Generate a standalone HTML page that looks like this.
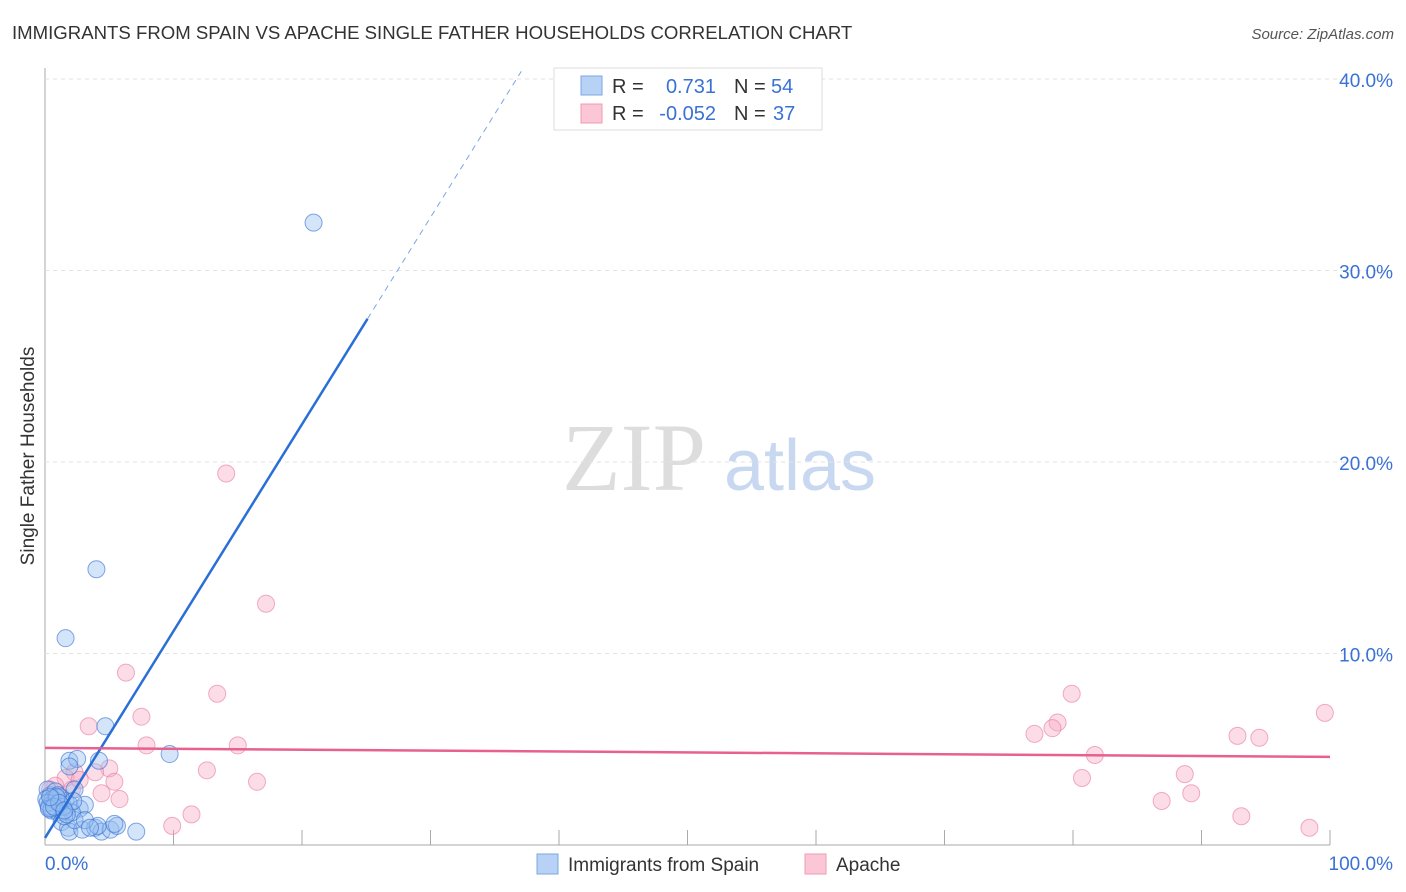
<!DOCTYPE html>
<html><head><meta charset="utf-8"><style>
body{margin:0;background:#fff;font-family:"Liberation Sans",sans-serif;}
svg{display:block}
</style></head><body>
<svg id="c" width="1406" height="892">
<text x="12" y="39" font-size="18.6" fill="#333">IMMIGRANTS FROM SPAIN VS APACHE SINGLE FATHER HOUSEHOLDS CORRELATION CHART</text>
<text x="1394" y="39" font-size="15" fill="#555" font-style="italic" text-anchor="end">Source: ZipAtlas.com</text>
<text x="634" y="490" font-size="96" fill="#ddd" font-family="Liberation Serif" text-anchor="middle">ZIP</text>
<text x="800" y="490" font-size="72" fill="#c8d8f0" text-anchor="middle">atlas</text>
<text transform="translate(34,456) rotate(-90)" font-size="19" fill="#333" text-anchor="middle">Single Father Households</text>
<g id="grid"></g><g id="pts"></g><g id="lines"></g>
<g>
<rect x="554" y="68" width="268" height="62" fill="#fff" stroke="#ddd"/>
<rect x="581" y="76" width="21" height="19" fill="#b8d2f5" stroke="#7aa7e3"/>
<rect x="581" y="104" width="21" height="19" fill="#fbc6d6" stroke="#f19ab5"/>
<text x="612" y="93" font-size="20" fill="#333">R =</text>
<text x="716" y="93" font-size="20" fill="#3a72d4" text-anchor="end">0.731</text>
<text x="734" y="93" font-size="20" fill="#333">N =</text>
<text x="771" y="93" font-size="20" fill="#3a72d4">54</text>
<text x="612" y="120" font-size="20" fill="#333">R =</text>
<text x="716" y="120" font-size="20" fill="#3a72d4" text-anchor="end">-0.052</text>
<text x="734" y="120" font-size="20" fill="#333">N =</text>
<text x="773" y="120" font-size="20" fill="#3a72d4">37</text>
</g>
<g>
<rect x="537" y="854" width="21" height="20" fill="#b8d2f5" stroke="#7aa7e3"/>
<text x="568" y="871" font-size="19" fill="#333">Immigrants from Spain</text>
<rect x="805" y="854" width="21" height="20" fill="#fbc6d6" stroke="#f19ab5"/>
<text x="836" y="871" font-size="19" fill="#333">Apache</text>
</g>
</svg>
<script>
const yTicks=[10,20,30,40];
const xTickLabels=["0.0%","100.0%"];
const blueX=[20.9,4.0,1.6,4.7,9.7,1.9,2.5,4.2,1.9,2.3,0.4,0.8,1.2,0.5,1.6,0.2,1.0,1.9,2.7,3.1,1.3,1.8,1.9,2.9,3.9,4.4,5.1,5.6,5.4,7.1,4.1,2.3,0.8,1.2,0.6,0.1,2.1,1.5,3.1,3.5,0.3,0.6,1.0,1.4,0.2,0.5,0.9,1.7,2.2,0.3,0.7,1.1,1.5,0.4];
const blueY=[32.5,14.4,10.8,6.2,4.75,4.4,4.5,4.4,4.1,2.9,2.6,2.3,2.1,1.8,2.3,2.9,1.7,2.1,1.9,2.1,1.2,0.9,0.7,0.8,0.9,0.7,0.8,1.0,1.1,0.7,1.0,1.3,2.8,2.5,2.2,2.4,1.7,1.5,1.3,0.9,2.0,2.4,2.6,2.0,2.2,1.9,2.5,1.6,2.3,1.9,2.0,2.2,1.8,2.5];
const pinkX=[14.1,17.2,6.3,13.4,7.5,3.4,7.9,15.0,5.0,12.6,16.5,5.4,4.4,5.8,11.4,9.9,3.9,2.3,1.6,0.8,0.4,1.2,2.1,2.7,79.9,78.8,78.4,77.0,81.7,80.7,88.7,86.9,89.2,92.8,94.5,99.6,93.1,98.4];
const pinkY=[19.4,12.6,9.0,7.9,6.7,6.2,5.2,5.2,4.0,3.9,3.3,3.3,2.7,2.4,1.6,1.0,3.8,3.8,3.5,3.1,2.9,2.6,2.9,3.4,7.9,6.4,6.1,5.8,4.7,3.5,3.7,2.3,2.7,5.7,5.6,6.9,1.5,0.9];
const blueFit=[0.37,1.08];
const pinkFit=[5.07,-0.0047];
const X=v=>45+v*12.85, Y=v=>845-v*19.15;
const NS="http://www.w3.org/2000/svg";
function mk(t,a,p){const e=document.createElementNS(NS,t);for(const k in a)e.setAttribute(k,a[k]);p.appendChild(e);return e;}
const g=document.getElementById('grid');
let ax=mk('line',{x1:45,y1:68,x2:45,y2:845,stroke:'#aaa'},g);


let bx=mk('line',{x1:45,y1:845,x2:1330,y2:845,stroke:'#aaa'},g);


yTicks.forEach(t=>{
 let l=mk('line',{x1:45,y1:Y(t),x2:1392,y2:Y(t),stroke:'#e2e2e2','stroke-dasharray':'4,4'},g);
 
 
 let tx=mk('text',{x:1393,y:Y(t)+8,'font-size':19,fill:'#3a72d4','text-anchor':'end'},g);tx.textContent=t.toFixed(1)+'%';
 
 
});
for(let i=1;i<=10;i++){let l=mk('line',{x1:X(i*10),y1:830,x2:X(i*10),y2:845,stroke:'#aaa'},g);
 
 }
let t0=mk('text',{x:45,y:870,'font-size':19,fill:'#3a72d4'},g);t0.textContent=xTickLabels[0];


let t1=mk('text',{x:1393,y:870,'font-size':19,fill:'#3a72d4','text-anchor':'end'},g);t1.textContent=xTickLabels[1];


const p=document.getElementById('pts');
pinkX.forEach((x,i)=>{let c=mk('circle',{cx:X(x),cy:Y(pinkY[i]),r:8.5,fill:'rgba(248,170,195,0.4)',stroke:'rgba(232,120,160,0.6)'},p);
 
 });
blueX.forEach((x,i)=>{let c=mk('circle',{cx:X(x),cy:Y(blueY[i]),r:8.5,fill:'rgba(150,190,240,0.4)',stroke:'rgba(50,110,210,0.6)'},p);
 
 });
const L=document.getElementById('lines');
const bY=x=>blueFit[0]+blueFit[1]*x;
let b1=mk('line',{x1:X(0),y1:Y(bY(0)),x2:X(25.1),y2:Y(bY(25.1)),stroke:'#2a6fd6','stroke-width':2.5},L);


let xe=(40.4-blueFit[0])/blueFit[1];
let b2=mk('line',{x1:X(25.1),y1:Y(bY(25.1)),x2:X(xe),y2:Y(bY(xe)),stroke:'#7aa7e3','stroke-width':1,'stroke-dasharray':'6,5'},L);


const pY=x=>pinkFit[0]+pinkFit[1]*x;
let p1=mk('line',{x1:X(0),y1:Y(pY(0)),x2:X(100),y2:Y(pY(100)),stroke:'#e8608e','stroke-width':2.5},L);


</script>
</body></html>
